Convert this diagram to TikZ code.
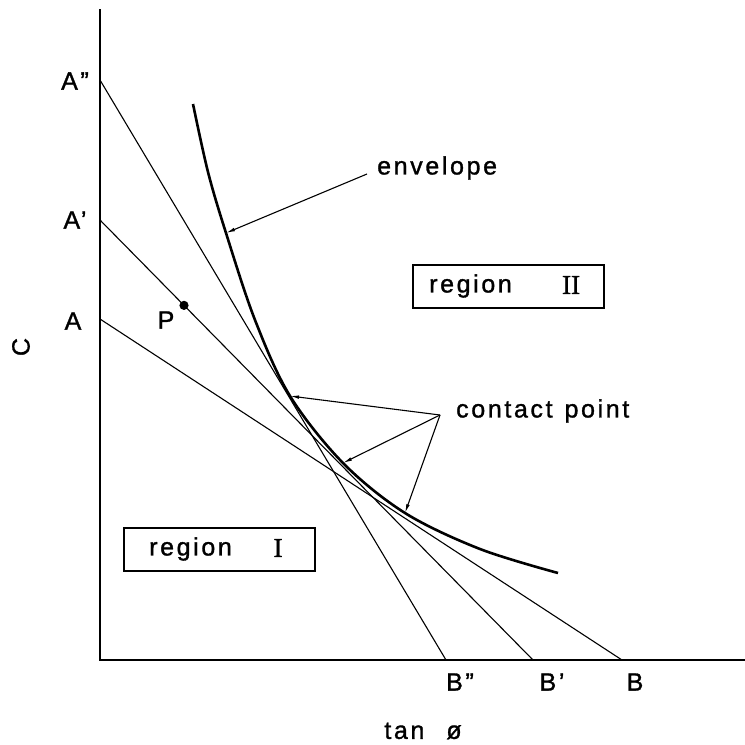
\documentclass[tikz,border=0pt]{standalone}
\usepackage{fontspec}
\setmainfont{Liberation Sans}
\newfontfamily\lab[LetterSpace=10.5,FakeBold=1.2]{Liberation Sans}
\newfontfamily\rom[FakeBold=1.5]{Liberation Serif}
\usetikzlibrary{arrows.meta,calc}
\begin{document}
\begin{tikzpicture}[x=1pt,y=-1pt,
  every node/.style={font=\lab\fontsize{25}{27}\selectfont, inner sep=0pt},
  axis/.style={line width=2.4pt, line cap=rect},
  tangent/.style={line width=1.1pt},
  env/.style={line width=2.6pt},
  pointer/.style={line width=1.1pt, -{Latex[length=9pt,width=3.6pt]}},
  regbox/.style={draw, line width=1.3pt, minimum height=43pt, minimum width=191pt, inner sep=0pt}]
\useasboundingbox (0,0) rectangle (745,745);
% axes
\coordinate (ytop) at (100,10);
\coordinate (O) at (100,660);
\coordinate (xend) at (745,660);
\draw[axis] (ytop) -- (O) -- (xend);
% intercepts
\coordinate (A2) at (100,80);
\coordinate (A1) at (100,220);
\coordinate (A0) at (100,319);
\coordinate (B2) at (446,660);
\coordinate (B1) at (533,660);
\coordinate (B0) at (622,660);
\draw[tangent] (A2) -- (B2);
\draw[tangent] (A1) -- (B1);
\draw[tangent] (A0) -- (B0);
% envelope
\draw[env] plot[smooth, tension=0.55] coordinates {(193,104) (208,172) (226,233) (255,320) (290,396) (343,463) (405,513) (480,549) (558,573)};
% point P
\coordinate (Pp) at ($(A1)!0.194!(B1)$);
\fill (Pp) circle (4.6pt);
\node (Plab) at (166,320) {P};
% axis labels
\node (lA2) at (75,81) {A”};
\node (lA1) at (75,220) {A’};
\node (lA0) at (73,321) {A};
\node (lB2) at (460,682) {B”};
\node (lB1) at (552,682) {B’};
\node (lB0) at (635,682) {B};
\node (xlab) at (423,731) {tan\hspace{22pt}ø};
\node[rotate=90] (ylab) at (21,347) {C};
% regions
\node[regbox] (r2) at (508.5,286.5) {};
\node[anchor=west] (r2t) at (429,286) {region};
\node (r2n) at (571,285) {\fontsize{27}{29}\selectfont\rom II};
\node[regbox] (r1) at (219.5,549.5) {};
\node[anchor=west] (r1t) at (149,549) {region};
\node (r1n) at (278,548) {\fontsize{27}{29}\selectfont\rom I};
% envelope label
\node[anchor=west] (envlab) at (377,168) {envelope};
\coordinate (envtail) at (367,174);
\coordinate (envtip) at (226,233);
\draw[pointer] (envtail) -- (envtip);
% contact points
\node[anchor=west] (cplab) at (456,411) {contact\hspace{12pt}point};
\coordinate (cp) at (440,415);
\coordinate (c1) at (290,396);
\coordinate (c2) at (343,463);
\coordinate (c3) at (405,513);
\draw[pointer] (cp) -- (c1);
\draw[pointer] (cp) -- (c2);
\draw[pointer] (cp) -- (c3);
\end{tikzpicture}
\end{document}
